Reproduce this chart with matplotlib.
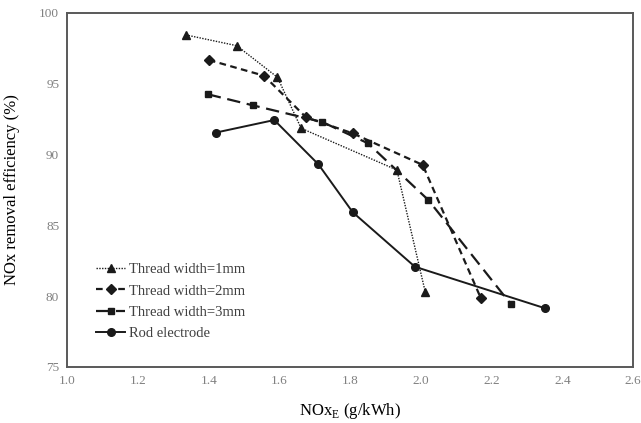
import matplotlib
matplotlib.use('Agg')
import matplotlib.pyplot as plt

plt.rcParams['font.family'] = ['Liberation Serif', 'DejaVu Serif']
plt.rcParams['mathtext.fontset'] = 'custom'
plt.rcParams['mathtext.rm'] = 'Liberation Serif'

# data
x_1mm = [1.335, 1.479, 1.594, 1.661, 1.932, 2.012]
y_1mm = [98.45, 97.69, 95.46, 91.86, 88.91, 80.32]

x_2mm = [1.400, 1.556, 1.675, 1.807, 2.005, 2.169]
y_2mm = [96.68, 95.57, 92.63, 91.50, 89.27, 79.89]

x_3mm = [1.397, 1.524, 1.721, 1.850, 2.021, 2.254]
y_3mm = [94.26, 93.48, 92.30, 90.80, 86.79, 79.45]

x_rod = [1.419, 1.585, 1.710, 1.807, 1.983, 2.351]
y_rod = [91.55, 92.44, 89.31, 85.93, 82.08, 79.15]

labels = ['Thread width=1mm', 'Thread width=2mm', 'Thread width=3mm', 'Rod electrode']

fig = plt.figure(figsize=(6.41, 4.23), dpi=100)
ax = fig.add_axes([0.1053, 0.1324, 0.8822, 0.8369])

line_col = '#1a1a1a'
ax.plot(x_1mm, y_1mm, color=line_col, ls=(0, (1, 1)), lw=1.0, marker='^', ms=5.5, label=labels[0])
ax.plot(x_2mm, y_2mm, color=line_col, ls=(0, (3, 2)), lw=1.6, marker='D', ms=5, label=labels[1])
ax.plot(x_3mm, y_3mm, color=line_col, ls=(0, (6, 3)), lw=1.6, marker='s', ms=5, label=labels[2])
ax.plot(x_rod, y_rod, color=line_col, ls='-', lw=1.4, marker='o', ms=5.5, label=labels[3])

ax.set_xlim(1.0, 2.6)
ax.set_ylim(75, 100)
ax.set_xticks([1.0, 1.2, 1.4, 1.6, 1.8, 2.0, 2.2, 2.4, 2.6])
ax.set_yticks([75, 80, 85, 90, 95, 100])
ax.set_xticklabels(['1.0', '1.2', '1.4', '1.6', '1.8', '2.0', '2.2', '2.4', '2.6'])
ax.tick_params(length=0, labelsize=9.5, labelcolor='#808080', pad=6)

for s in ax.spines.values():
    s.set_color('#595959')
    s.set_linewidth(1.4)

ax.set_ylabel('NOx removal efficiency (%)', fontsize=12, labelpad=14)
ax.set_xlabel(r'NOx$_{\rm E}$ (g/kWh)', fontsize=12, labelpad=10)

ax.legend(loc='upper left', bbox_to_anchor=(0.04, 0.31), frameon=False, fontsize=10.5,
          handlelength=2.0, handletextpad=0.3, labelspacing=0.55, borderaxespad=0,
          labelcolor='#404040')

fig.savefig('out.png', dpi=100)
